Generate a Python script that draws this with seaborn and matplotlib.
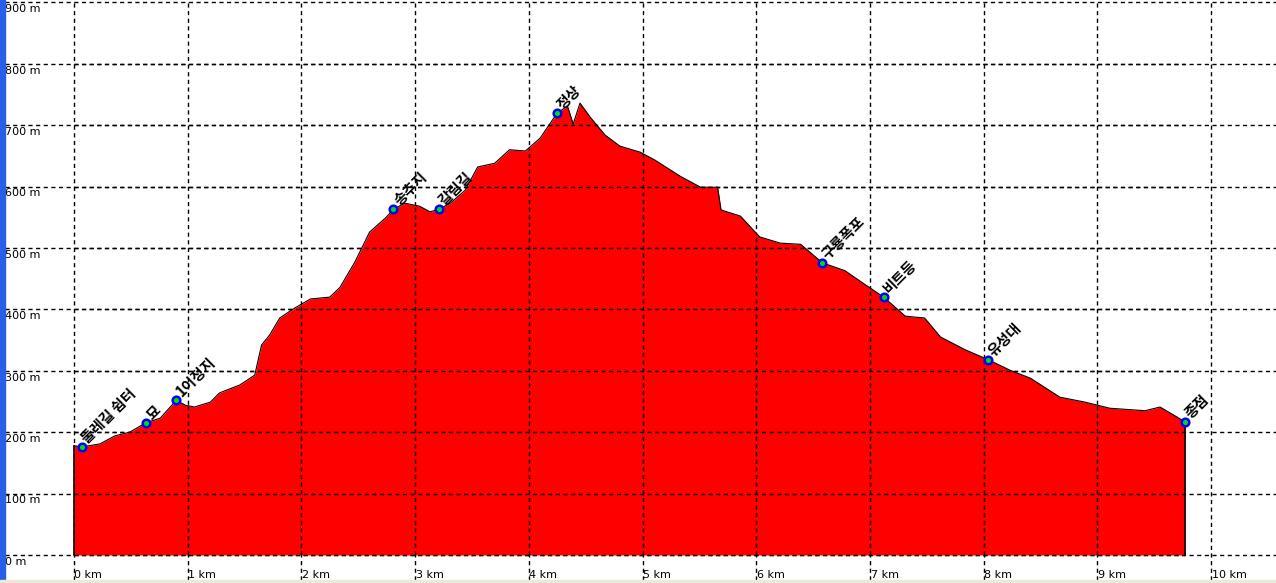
import numpy as np
import pandas as pd
import matplotlib
matplotlib.use('Agg')
import matplotlib.pyplot as plt
import seaborn as sns

# 고도 프로파일 (거리 km, 고도 m)
dist_km = [0.0, 0.07, 0.23, 0.36, 0.49, 0.63, 0.76, 0.90, 0.98, 1.06, 1.20, 1.28,
           1.46, 1.59, 1.65, 1.72, 1.81, 1.94, 2.08, 2.25, 2.34, 2.47, 2.60, 2.74,
           2.81, 2.91, 3.04, 3.13, 3.21, 3.31, 3.44, 3.55, 3.70, 3.83, 3.97, 4.10,
           4.25, 4.34, 4.39, 4.45, 4.54, 4.67, 4.80, 4.98, 5.11, 5.33, 5.51, 5.66,
           5.69, 5.86, 6.03, 6.21, 6.39, 6.58, 6.78, 6.96, 7.12, 7.31, 7.48, 7.62,
           7.84, 8.04, 8.23, 8.41, 8.67, 8.89, 9.11, 9.42, 9.55, 9.77]
elev_m = [178, 176, 181, 194, 200, 215, 223, 252, 244, 241, 249, 264,
          277, 293, 342, 358, 386, 402, 417, 420, 436, 477, 526, 549,
          563, 573, 568, 559, 563, 573, 594, 632, 638, 660, 658, 679,
          720, 731, 702, 736, 713, 684, 666, 656, 643, 617, 599, 599,
          562, 552, 518, 508, 506, 476, 463, 440, 420, 389, 386, 355,
          334, 318, 301, 288, 257, 249, 239, 235, 241, 217]

# 경유지
wp_km = [0.07, 0.63, 0.90, 2.81, 3.21, 4.25, 6.58, 7.12, 8.04, 9.77]
wp_elev = [176, 215, 252, 563, 563, 720, 476, 420, 318, 217]
wp_name = ['둘레길 쉼터', '묘', '1이정지', '송추지', '갈림길', '정상',
           '구룡폭포', '비트등', '유성대', '종점']

x_ticks = list(range(0, 11))
y_ticks = list(range(0, 1000, 100))

sns.set_style('white')
plt.rcParams['font.family'] = ['Noto Sans CJK KR', 'DejaVu Sans']
plt.rcParams['text.color'] = 'black'

profile = pd.DataFrame({'km': dist_km, 'm': elev_m})
wps = pd.DataFrame({'km': wp_km, 'm': wp_elev, 'name': wp_name})

fig = plt.figure(figsize=(12.76, 5.83), dpi=100)
ax = fig.add_axes([0, 0, 1, 1])
x0, x1 = -0.65, 10.57
y0, y1 = -45.6, 903.9
ax.set_xlim(x0, x1)
ax.set_ylim(y0, y1)
ax.axis('off')

dash = (0, (3, 2.5))

# 격자
gx = x0 + 5 / 113.7
for v in y_ticks:
    ax.plot([gx, x1], [v, v], color='black', lw=1, ls=dash, zorder=1)
    ax.text(gx, v - 3, f'{v} m', fontsize=8, va='top', ha='left',
            family=['DejaVu Sans'], color='black')
for k in x_ticks:
    ax.plot([k, k], [-40, y1], color='black', lw=1, ls=dash, zorder=1)
    ax.text(k + 0.005, -33, f'{k} km', fontsize=8, va='center', ha='left',
            family=['DejaVu Sans'], color='black')

# 고도 영역
ax.fill_between(profile['km'], profile['m'], 0, color='#ff0000', lw=0, zorder=2)
sns.lineplot(data=profile, x='km', y='m', ax=ax, color='black', lw=0.8,
             zorder=3, estimator=None, sort=False)
ax.plot([0, 0], [0, elev_m[0]], color='black', lw=1.2, zorder=3)
ax.plot([dist_km[-1]] * 2, [0, elev_m[-1]], color='black', lw=1.2, zorder=3)

# 붉은 영역 위의 격자
for v in y_ticks[:-1]:
    ax.plot([0, dist_km[-1]], [v, v], color='black', lw=1, ls=dash, zorder=4)
for k in x_ticks:
    if 0 < k < dist_km[-1]:
        top = np.interp(k, dist_km, elev_m)
        ax.plot([k, k], [0, top], color='black', lw=1, ls=dash, zorder=4)

sns.scatterplot(data=wps, x='km', y='m', ax=ax, s=30, color='#00dd00',
                edgecolor='#0000ff', linewidth=1.8, zorder=6, legend=False)
for _, r in wps.iterrows():
    ax.text(r['km'] + 0.07, r['m'] + 1, r['name'], rotation=45, fontsize=10.5,
            fontweight='bold', ha='left', va='bottom', rotation_mode='anchor',
            color='black', zorder=7)

ax.set_xlabel('')
ax.set_ylabel('')

# 창 테두리
fig.patches.append(plt.Rectangle((0, 0), 5 / 1276, 1, transform=fig.transFigure,
                                 color='#2a5ee8', zorder=10))
fig.patches.append(plt.Rectangle((0, 0), 1, 3 / 583, transform=fig.transFigure,
                                 color='#ece9d8', zorder=10))

fig.savefig('out.png', dpi=100)
